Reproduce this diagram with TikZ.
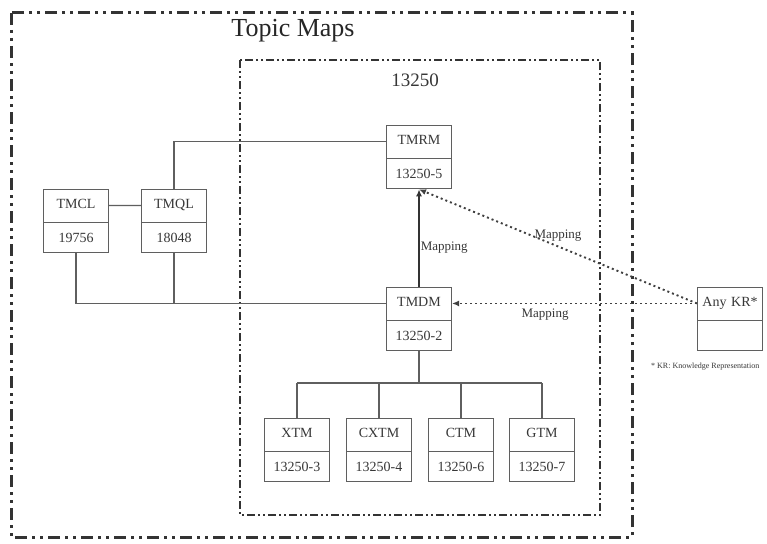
\documentclass[tikz,border=0pt]{standalone}
\usepackage{fontspec}
\setmainfont{Liberation Serif}
\usetikzlibrary{shapes.multipart, arrows.meta, positioning, calc}
\definecolor{linegray}{RGB}{95, 95, 95}
\definecolor{textgray}{RGB}{55, 55, 55}

\begin{document}
\begin{tikzpicture}[x=1pt, y=-1pt,
  stdbox/.style={rectangle split, rectangle split parts=2, draw=linegray, line width=1.1pt,
    text width=59pt, align=center, inner xsep=3pt, inner ysep=10pt,
    text height=9pt, text depth=3pt, font=\fontsize{14}{15}\selectfont, text=textgray},
  link/.style={draw=linegray, line width=1.1pt},
  maparrow/.style={draw=black!80, line width=1.5pt, -{Latex[length=7pt, width=6pt]}},
  mapdots/.style={draw=black!75, line width=1.9pt, dash pattern=on 2pt off 3pt, -{Latex[length=7pt, width=6pt]}},
  maplabel/.style={font=\fontsize{13}{14}\selectfont, text=textgray, inner sep=1pt}
]
  \useasboundingbox[fill=white] (0,0) rectangle (767,543);

  % frames
  \draw[line width=3pt, draw=black!80, dash pattern=on 12pt off 5pt on 3pt off 5pt on 3pt off 5pt] (11,13) rectangle (632,537);
  \draw[line width=2pt, draw=black!80, dash pattern=on 8pt off 3pt on 2pt off 3pt on 2pt off 3pt] (240,60) rectangle (600,515);
  \node[font=\fontsize{26}{28}\selectfont, text=black!85] (topicmaps) at (293,31) {Topic Maps};
  \node[font=\fontsize{19}{21}\selectfont, text=textgray] (isonum) at (415,80) {13250};

  % standards
  \node[stdbox] (tmrm) at (419,157) {TMRM \nodepart{two} 13250-5};
  \node[stdbox] (tmdm) at (419,319) {TMDM \nodepart{two} 13250-2};
  \node[stdbox] (tmcl) at (76,221) {TMCL \nodepart{two} 19756};
  \node[stdbox] (tmql) at (174,221) {TMQL \nodepart{two} 18048};
  \node[stdbox] (xtm) at (297,450) {XTM \nodepart{two} 13250-3};
  \node[stdbox] (cxtm) at (379,450) {CXTM \nodepart{two} 13250-4};
  \node[stdbox] (ctm) at (461,450) {CTM \nodepart{two} 13250-6};
  \node[stdbox] (gtm) at (542,450) {GTM \nodepart{two} 13250-7};
  \node[stdbox] (anykr) at (730,319) {Any KR* \nodepart{two} \phantom{0}};
  \node[font=\fontsize{8}{9}\selectfont, text=textgray, anchor=west, inner sep=0pt] (krnote) at (651,367) {* KR: Knowledge Representation};

  \coordinate (tmrm-w) at ($(tmrm.north west)!0.5!(tmrm.text split west)$);
  \coordinate (tmdm-w) at ($(tmdm.north west)!0.5!(tmdm.text split west)$);
  \coordinate (tmdm-e) at ($(tmdm.north east)!0.5!(tmdm.text split east)$);
  \coordinate (tmcl-e) at ($(tmcl.north east)!0.5!(tmcl.text split east)$);
  \coordinate (tmql-w) at ($(tmql.north west)!0.5!(tmql.text split west)$);
  \coordinate (anykr-w) at ($(anykr.north west)!0.5!(anykr.text split west)$);
  \coordinate (bus) at (419,383);

  % links
  \draw[link] (tmcl-e) -- (tmql-w);
  \draw[link] (tmql.north) |- (tmrm-w);
  \draw[link] (tmcl.south) |- (tmdm-w);
  \draw[link] (tmql.south) -- (tmql.south |- tmdm-w);
  \draw[link] (tmdm.south) -- (bus);
  \draw[link] (xtm.north |- bus) -- (gtm.north |- bus);
  \foreach \n in {xtm, cxtm, ctm, gtm}
    \draw[link] (\n.north) -- (\n.north |- bus);

  % mappings
  \draw[maparrow] (tmdm.north) -- node[maplabel, right, pos=0.4] {Mapping} (tmrm.south);
  \draw[mapdots] (anykr-w) -- node[maplabel, below=3pt, pos=0.62] {Mapping} (tmdm-e);
  \draw[mapdots] (anykr-w) -- node[maplabel, above=3pt, pos=0.5] {Mapping} (tmrm.south);
\end{tikzpicture}
\end{document}
